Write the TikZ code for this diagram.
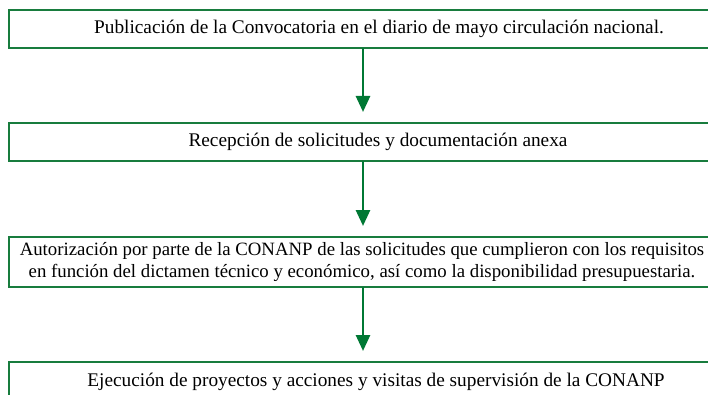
\documentclass[tikz,border=0pt]{standalone}
\usepackage{fontspec}
\setmainfont{Liberation Serif}
\usepackage{tikz}
\usetikzlibrary{arrows.meta}
\definecolor{boxgreen}{RGB}{24,124,62}
\definecolor{arrowgreen}{RGB}{0,120,52}

\tikzset{
  stepbox/.style={draw=boxgreen,line width=2pt,minimum width=738pt,minimum height=38pt,inner sep=0pt},
  steptext/.style={font=\fontsize{19.3}{22.5}\selectfont,align=center,inner sep=0pt},
  flow/.style={draw=arrowgreen,line width=2.8pt,-{Triangle[length=16pt,width=14pt]},shorten >=10pt}
}

\begin{document}
\begin{tikzpicture}[x=1pt,y=-1pt,line cap=round]
  \useasboundingbox (0,0) rectangle (708,395);
  \clip (0,0) rectangle (708,395);
  % the four steps, top to bottom
  \node[stepbox] (pub) at (378,29) {};
  \node[steptext] (pubtext) at (379,29) {Publicación de la Convocatoria en el diario de mayo circulación nacional.};
  \node[stepbox] (rec) at (378,142) {};
  \node[steptext] (rectext) at (378,142) {Recepción de solicitudes y documentación anexa};
  \node[stepbox,minimum height=50pt] (aut) at (378,262) {};
  \node[steptext,font=\fontsize{18.8}{22.5}\selectfont] (auttext) at (362,262) {Autorización por parte de la CONANP de las solicitudes que cumplieron con los requisitos\\
    en función del dictamen técnico y económico, así como la disponibilidad presupuestaria.};
  \node[stepbox] (eje) at (378,381) {};
  \node[steptext] (ejetext) at (376,382) {Ejecución de proyectos y acciones y visitas de supervisión de la CONANP};
  % arrows between the steps
  \coordinate (axis) at (363,0);
  \draw[flow] (axis |- pub.south) -- (axis |- rec.north);
  \draw[flow] (axis |- rec.south) -- (axis |- aut.north);
  \draw[flow] (axis |- aut.south) -- (axis |- eje.north);
\end{tikzpicture}
\end{document}
